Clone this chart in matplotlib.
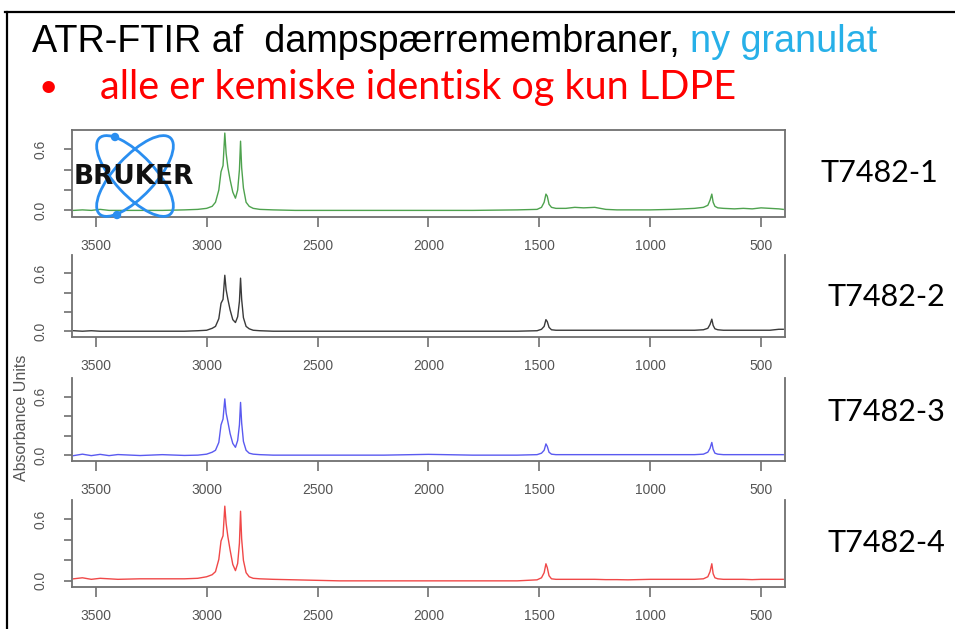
import matplotlib
matplotlib.use("Agg")
import matplotlib.pyplot as plt
from matplotlib.patches import Ellipse, Circle
from matplotlib.lines import Line2D

# wavenumber grid (cm-1) shared by the four spectra
wavenumber = [3600, 3560, 3520, 3480, 3440, 3400, 3300, 3200, 3100, 3040,
              3000, 2975, 2960, 2945, 2935, 2926, 2918, 2912, 2904, 2894,
              2882, 2870, 2860, 2852, 2847, 2842, 2834, 2822, 2808, 2790,
              2760, 2700, 2600, 2400, 2200, 2000, 1800, 1600, 1510, 1490,
              1478, 1470, 1464, 1456, 1445, 1425, 1380, 1340, 1300, 1250,
              1200, 1150, 1100, 1000, 900, 800, 760, 740, 730, 722,
              716, 708, 695, 670, 620, 580, 540, 500, 460, 420,
              400]

abs_1 = [0.0, 0.005, 0.0, 0.01, 0.0, 0.0, 0.0, 0.0, 0.005, 0.01,
         0.02, 0.04, 0.08, 0.20, 0.38, 0.44, 0.76, 0.56, 0.42, 0.30,
         0.18, 0.12, 0.20, 0.40, 0.68, 0.42, 0.22, 0.08, 0.04, 0.02,
         0.01, 0.005, 0.0, 0.0, 0.0, 0.0, 0.0, 0.005, 0.01, 0.03,
         0.08, 0.16, 0.14, 0.06, 0.03, 0.02, 0.02, 0.03, 0.025, 0.03,
         0.01, 0.005, 0.005, 0.005, 0.01, 0.02, 0.03, 0.05, 0.10, 0.16,
         0.08, 0.04, 0.025, 0.02, 0.015, 0.02, 0.015, 0.025, 0.02, 0.015,
         0.01]

abs_2 = [0.005, 0.0, 0.005, 0.0, 0.0, 0.0, 0.0, 0.0, 0.0, 0.005,
         0.01, 0.03, 0.05, 0.13, 0.29, 0.33, 0.58, 0.43, 0.33, 0.22,
         0.12, 0.09, 0.15, 0.31, 0.55, 0.33, 0.14, 0.05, 0.025, 0.01,
         0.005, 0.0, 0.0, 0.0, 0.0, 0.0, 0.0, 0.0, 0.005, 0.02,
         0.05, 0.12, 0.10, 0.04, 0.015, 0.01, 0.01, 0.01, 0.01, 0.01,
         0.01, 0.01, 0.01, 0.01, 0.01, 0.01, 0.015, 0.03, 0.07, 0.125,
         0.06, 0.025, 0.015, 0.01, 0.01, 0.01, 0.01, 0.01, 0.01, 0.02,
         0.02]

abs_3 = [-0.005, 0.01, -0.005, 0.008, -0.005, 0.006, -0.004, 0.005, -0.003, 0.0,
         0.01, 0.03, 0.05, 0.13, 0.31, 0.37, 0.576, 0.43, 0.34, 0.22,
         0.12, 0.08, 0.15, 0.31, 0.54, 0.33, 0.14, 0.05, 0.02, 0.01,
         0.005, 0.0, 0.0, 0.0, 0.0, 0.008, 0.0, 0.0, 0.005, 0.02,
         0.05, 0.115, 0.09, 0.03, 0.01, 0.005, 0.005, 0.005, 0.005, 0.005,
         0.005, 0.005, 0.005, 0.005, 0.005, 0.005, 0.01, 0.03, 0.07, 0.13,
         0.06, 0.02, 0.01, 0.005, 0.005, 0.005, 0.005, 0.005, 0.005, 0.005,
         0.005]

abs_4 = [0.02, 0.03, 0.015, 0.025, 0.02, 0.015, 0.02, 0.02, 0.02, 0.025,
         0.04, 0.06, 0.09, 0.21, 0.39, 0.44, 0.73, 0.56, 0.43, 0.30,
         0.16, 0.10, 0.17, 0.37, 0.68, 0.41, 0.20, 0.08, 0.04, 0.025,
         0.02, 0.015, 0.01, 0.0, 0.0, 0.0, 0.0, 0.0, 0.01, 0.03,
         0.08, 0.167, 0.13, 0.05, 0.02, 0.015, 0.015, 0.015, 0.015, 0.015,
         0.012, 0.012, 0.01, 0.015, 0.015, 0.015, 0.02, 0.04, 0.09, 0.167,
         0.07, 0.03, 0.02, 0.015, 0.015, 0.015, 0.012, 0.015, 0.015, 0.015,
         0.015]

sample_names = ["T7482-1", "T7482-2", "T7482-3", "T7482-4"]
spectra = [abs_1, abs_2, abs_3, abs_4]
line_colors = ["#4ea24e", "#3a3a3a", "#5a5af0", "#f04848"]

x_ticks = [3500, 3000, 2500, 2000, 1500, 1000, 500]
y_ticks = [0.0, 0.2, 0.4, 0.6]
y_ticklabels = ["0.0", "", "", "0.6"]

W, H = 955, 629
fig = plt.figure(figsize=(W / 100, H / 100), dpi=100)
fig.patch.set_facecolor("white")

tick_font = ["Liberation Sans Narrow", "Liberation Sans", "DejaVu Sans"]
axis_gray = "#707070"

# panel boxes in pixels: (top, bottom)
panel_px = [(130, 216.5), (255, 337), (378, 461), (500, 587)]
left_px, right_px = 72, 785
label_y_px = [173, 297, 412, 543]
label_right_px = [938, 945, 945, 945]

for i, (top, bot) in enumerate(panel_px):
    ax = fig.add_axes([left_px / W, 1 - bot / H, (right_px - left_px) / W, (bot - top) / H])
    ax.plot(wavenumber, spectra[i], color=line_colors[i], lw=1.0)
    ax.set_xlim(3607, 392)
    ax.set_ylim(-0.06, 0.79)
    ax.set_xticks(x_ticks)
    ax.set_xticklabels([str(t) for t in x_ticks], family=tick_font)
    ax.set_yticks(y_ticks)
    ax.set_yticklabels(y_ticklabels, family=tick_font, rotation=90, va="center")
    ax.tick_params(axis="x", direction="out", length=7, width=1.2, color=axis_gray,
                   labelsize=10, labelcolor="#555555", pad=9)
    ax.tick_params(axis="y", direction="out", length=6, width=1.2, color=axis_gray,
                   labelsize=10, labelcolor="#555555", pad=12)
    for s in ax.spines.values():
        s.set_color(axis_gray)
        s.set_linewidth(1.3)
    if i > 0:
        ax.spines["top"].set_visible(False)
    fig.text(label_right_px[i] / W, 1 - label_y_px[i] / H, sample_names[i],
             fontsize=22, family=["Lato", "DejaVu Sans"], va="center", ha="right")

fig.text(22 / W, 1 - 418 / H, "Absorbance Units", rotation=90, fontsize=11.5,
         color="#555555", ha="center", va="center",
         family=["Liberation Sans", "DejaVu Sans"])

# slide title lines
renderer = fig.canvas.get_renderer()
t1 = fig.text(32 / W, 1 - 42 / H, "ATR-FTIR af  dampspærremembraner, ", fontsize=27.2,
              family=["Liberation Sans", "DejaVu Sans"], va="center", ha="left")
bb = t1.get_window_extent(renderer)
fig.text(bb.x1 / W, 1 - 42 / H, "ny granulat", fontsize=27.2, color="#27b0e8",
         family=["Liberation Sans", "DejaVu Sans"], va="center", ha="left")
fig.text(38 / W, 1 - 88 / H, "•", fontsize=24, color="#ff0000",
         family=["Lato", "DejaVu Sans"], va="center", ha="left")
fig.text(100 / W, 1 - 88 / H, "alle er kemiske identisk og kun LDPE", fontsize=28.5,
         color="#ff0000", family=["Lato", "DejaVu Sans"], va="center", ha="left")

# slide frame
fig.add_artist(Line2D([5 / W, 1], [1 - 12 / H, 1 - 12 / H], color="black", lw=1.6))
fig.add_artist(Line2D([7 / W, 7 / W], [1 - 12 / H, 0], color="black", lw=1.6))

# Bruker logo
logo_blue = "#2a8ef0"
for ang in (-47, 47):
    fig.add_artist(Ellipse((1.35, (H - 176) / 100), 1.04, 0.40, angle=ang, fill=False,
                           ec=logo_blue, lw=2.0, transform=fig.dpi_scale_trans))
for cx, cy in [(115, 137), (117, 215)]:
    fig.add_artist(Circle((cx / 100, (H - cy) / 100), 0.035, color=logo_blue,
                          transform=fig.dpi_scale_trans))
fig.text(134 / W, 1 - 177 / H, "BRUKER", fontsize=19, weight="bold",
         family="DejaVu Sans", ha="center", va="center", color="#111111")

fig.savefig("out.png", dpi=100)
